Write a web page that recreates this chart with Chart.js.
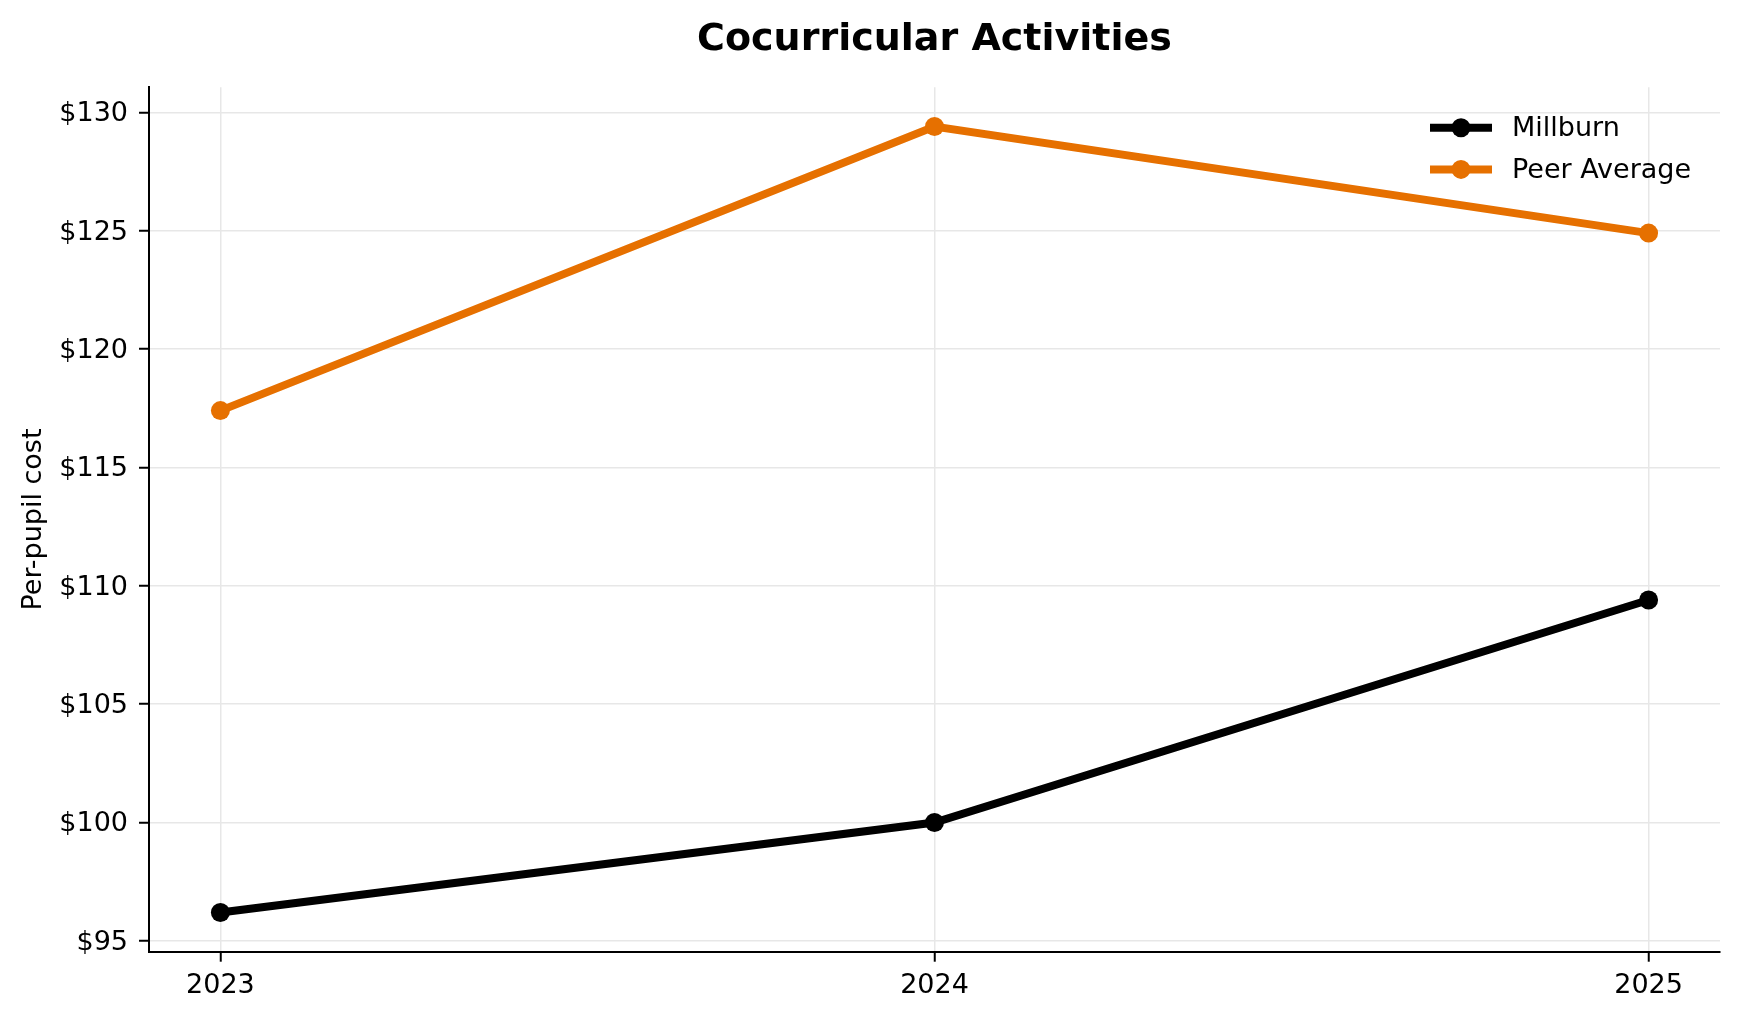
<!DOCTYPE html>
<html>
<head>
<meta charset="utf-8">
<title>Cocurricular Activities</title>
<script src="https://cdn.jsdelivr.net/npm/chart.js@4.4.1/dist/chart.umd.min.js"></script>
<style>
  html, body { margin: 0; padding: 0; background: #fff; }
  canvas { display: block; }
</style>
</head>
<body>
<canvas id="chart" width="1739" height="1019"></canvas>
<script>
const years = [2023, 2024, 2025];
const millburn = [96.2, 100.0, 109.4];
const peerAverage = [117.4, 129.4, 124.9];
const yTicks = [95, 100, 105, 110, 115, 120, 125, 130];

const FONT = 'DejaVu Sans';
const colors = {
  millburn: '#000000',
  peer: '#E67000',
  grid: '#e7e7e7'
};

// matplotlib style 5% margins around the data
const allValues = millburn.concat(peerAverage);
const dataMin = Math.min(...allValues);
const dataMax = Math.max(...allValues);
const yPad = (dataMax - dataMin) * 0.05;
const xPad = (years[years.length - 1] - years[0]) * 0.05;

function toPoints(values) {
  return years.map((year, i) => ({ x: year, y: values[i] }));
}

const insideLegend = {
  id: 'insideLegend',
  afterDatasetsDraw(chart) {
    const { ctx, chartArea } = chart;
    ctx.save();
    chart.data.datasets.forEach((ds, i) => {
      const y = chartArea.top + 40.5 + i * 41.6;
      const x0 = chartArea.right - 290;
      const x1 = chartArea.right - 228;
      ctx.strokeStyle = ds.borderColor;
      ctx.lineWidth = ds.borderWidth;
      ctx.beginPath();
      ctx.moveTo(x0, y);
      ctx.lineTo(x1, y);
      ctx.stroke();
      ctx.fillStyle = ds.pointBackgroundColor;
      ctx.beginPath();
      ctx.arc((x0 + x1) / 2, y, ds.pointRadius, 0, Math.PI * 2);
      ctx.fill();
      ctx.fillStyle = '#000';
      ctx.font = `27px "${FONT}"`;
      ctx.textAlign = 'left';
      ctx.textBaseline = 'middle';
      ctx.fillText(ds.label, chartArea.right - 208, y + 1.5);
    });
    ctx.restore();
  }
};

new Chart(document.getElementById('chart'), {
  type: 'line',
  data: {
    datasets: [
      {
        label: 'Millburn',
        data: toPoints(millburn),
        borderColor: colors.millburn,
        backgroundColor: colors.millburn,
        pointBackgroundColor: colors.millburn,
        borderWidth: 8,
        pointRadius: 9.5,
        pointBorderWidth: 0,
        tension: 0
      },
      {
        label: 'Peer Average',
        data: toPoints(peerAverage),
        borderColor: colors.peer,
        backgroundColor: colors.peer,
        pointBackgroundColor: colors.peer,
        borderWidth: 8,
        pointRadius: 9.5,
        pointBorderWidth: 0,
        tension: 0
      }
    ]
  },
  options: {
    responsive: false,
    animation: false,
    devicePixelRatio: 1,
    layout: { padding: { left: 0, right: 19, top: 0, bottom: 0 } },
    plugins: {
      legend: { display: false },
      tooltip: { enabled: false },
      title: {
        display: true,
        text: 'Cocurricular Activities',
        fullSize: false,
        color: '#000',
        font: { family: FONT, size: 38, weight: 'bold' },
        padding: { top: 17, bottom: 24.7 }
      }
    },
    scales: {
      x: {
        type: 'linear',
        min: years[0] - xPad,
        max: years[years.length - 1] + xPad,
        afterBuildTicks(scale) {
          scale.ticks = years.map(v => ({ value: v }));
        },
        afterFit(scale) {
          scale.height = 67.3;
        },
        ticks: {
          autoSkip: false,
          maxRotation: 0,
          padding: 8,
          color: '#000',
          font: { family: FONT, size: 27 },
          callback: v => String(v)
        },
        grid: {
          color: colors.grid,
          lineWidth: 1.5,
          tickLength: 10,
          tickColor: '#000',
          tickWidth: 2
        },
        border: { display: true, color: '#000', width: 2 }
      },
      y: {
        type: 'linear',
        min: dataMin - yPad,
        max: dataMax + yPad,
        afterBuildTicks(scale) {
          scale.ticks = yTicks.map(v => ({ value: v }));
        },
        afterFit(scale) {
          scale.width = 149;
        },
        ticks: {
          padding: 11,
          labelOffset: 2,
          color: '#000',
          font: { family: FONT, size: 27 },
          callback: v => '$' + v
        },
        grid: {
          color: colors.grid,
          lineWidth: 1.5,
          tickLength: 10,
          tickColor: '#000',
          tickWidth: 2
        },
        border: { display: true, color: '#000', width: 2 },
        title: {
          display: true,
          text: 'Per-pupil cost',
          color: '#000',
          font: { family: FONT, size: 27 },
          padding: { top: 18, bottom: 0 }
        }
      }
    }
  },
  plugins: [insideLegend]
});
</script>
</body>
</html>
